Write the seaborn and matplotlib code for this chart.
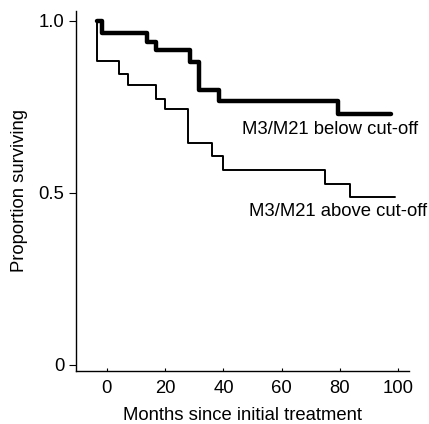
import pandas as pd
import matplotlib
matplotlib.use('Agg')
import matplotlib.pyplot as plt
import seaborn as sns

# --- Survival curves (months, proportion) ---
below_months = [-3.3, -1.8, 13.9, 17.0, 28.5, 31.7, 38.6, 79.2, 97.6]
below_surv = [1.0, 0.966, 0.939, 0.917, 0.880, 0.800, 0.767, 0.731, 0.731]

above_months = [-3.3, -3.3, 4.1, 7.2, 16.8, 19.8, 27.9, 35.9, 39.8, 75.0, 83.3, 98.7]
above_surv = [1.0, 0.884, 0.845, 0.813, 0.772, 0.745, 0.644, 0.608, 0.568, 0.527, 0.487, 0.487]

groups = ['M3/M21 below cut-off', 'M3/M21 above cut-off']
x_ticks = [0, 20, 40, 60, 80, 100]
y_ticks = [0, 0.5, 1.0]
y_tick_labels = ['0', '0.5', '1.0']

data = pd.concat([
    pd.DataFrame({'Months': below_months, 'Surv': below_surv, 'Group': groups[0]}),
    pd.DataFrame({'Months': above_months, 'Surv': above_surv, 'Group': groups[1]}),
], ignore_index=True)

# --- Styling ---
sns.set_style('white')
plt.rcParams['font.family'] = ['Liberation Sans', 'DejaVu Sans']
plt.rcParams['text.color'] = 'black'
plt.rcParams['axes.labelcolor'] = 'black'
plt.rcParams['xtick.color'] = 'black'
plt.rcParams['ytick.color'] = 'black'
fs = 13.3

fig = plt.figure(figsize=(4.29, 4.24), dpi=100)
ax = fig.add_axes([0.1765, 0.1257, 0.7765, 0.8483])

widths = {groups[0]: 3.2, groups[1]: 1.4}
for g in groups:
    sns.lineplot(data=data[data['Group'] == g], x='Months', y='Surv',
                 estimator=None, sort=False, drawstyle='steps-post',
                 color='black', linewidth=widths[g], ax=ax)

ax.text(46.4, 0.672, groups[0], fontsize=fs, va='baseline', ha='left')
ax.text(48.6, 0.433, groups[1], fontsize=fs, va='baseline', ha='left')

ax.set_xlim(-10.7, 103.6)
ax.set_ylim(-0.0166, 1.029)
ax.set_xticks(x_ticks)
ax.set_yticks(y_ticks)
ax.set_yticklabels(y_tick_labels)
ax.tick_params(axis='y', direction='out', length=5, width=0.8, pad=3,
               labelsize=fs, left=True)
ax.tick_params(axis='x', direction='in', length=2, width=0.8, pad=7,
               labelsize=fs, bottom=True)
ax.set_xlabel('Months since initial treatment', fontsize=fs, labelpad=7)
ax.set_ylabel('Proportion surviving', fontsize=fs, labelpad=8)

sns.despine(ax=ax)
for s in ['left', 'bottom']:
    ax.spines[s].set_color('black')
    ax.spines[s].set_linewidth(1.0)

fig.savefig('out.png', dpi=100)
